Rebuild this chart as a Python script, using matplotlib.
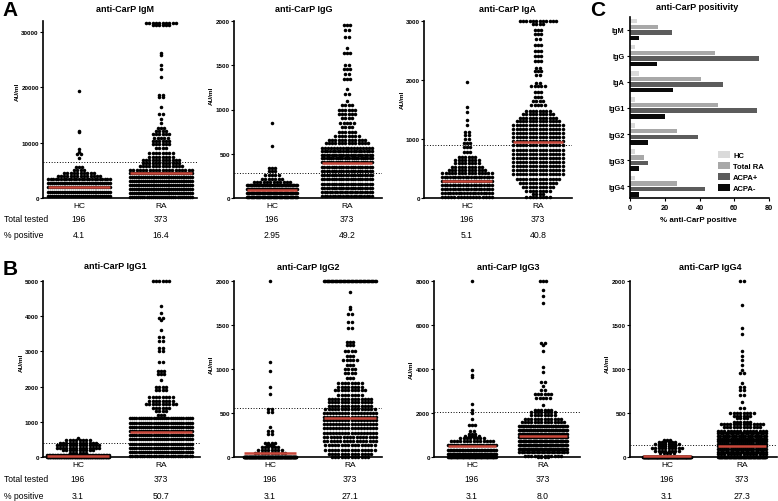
import numpy as np
import matplotlib
matplotlib.use('Agg')
import matplotlib.pyplot as plt
from matplotlib.patches import Patch

plt.rcParams['font.family'] = ['Liberation Sans', 'DejaVu Sans']

W, H = 778, 502
RED = '#c8473a'

groups = ['HC', 'RA']
total_tested = ['196', '373']

igm_hc_vals = [19300, 12100, 11900, 8800, 8400, 7900, 7200, 5600, 5000, 4600, 4000, 3400, 2650, 1900, 1150, 400]
igm_hc_n = [1, 1, 1, 1, 1, 2, 1, 3, 4, 10, 14, 25, 33, 33, 33, 33]
igm_ra_vals = [31700, 31200, 26300, 25900, 24000, 23400, 21900, 18600, 18300, 16500, 15100, 14300, 13600,
               12600, 12100, 11500, 10900, 10300, 9700, 9000, 8200, 7500, 6900, 6300, 5700, 5100,
               4600, 3850, 3100, 2350, 1600, 850, 200]
igm_ra_n = [10, 6, 1, 1, 1, 1, 1, 2, 2, 1, 2, 1, 1, 3, 4, 6, 5, 6, 6, 4, 8, 8, 12, 12, 14, 20,
            34, 34, 34, 34, 34, 34, 31]

igg_hc_vals = [850, 590, 340, 300, 260, 220, 185, 150, 105, 60, 15]
igg_hc_n = [1, 1, 3, 3, 5, 7, 12, 38, 42, 42, 42]
igg_ra_vals = [1950, 1900, 1820, 1700, 1640, 1500, 1460, 1400, 1340, 1230, 1180, 1100,
               1050, 1000, 950, 900, 850, 800, 750, 700, 660, 620, 570, 530, 490,
               450, 402, 354, 306, 258, 210, 162, 114, 66, 18]
igg_ra_n = [3, 2, 2, 1, 3, 2, 3, 2, 3, 1, 2, 1, 4, 6, 6, 4, 5, 4, 6, 8, 12, 14, 18, 20, 22,
            23, 23, 22, 22, 22, 22, 22, 22, 21, 20]

iga_hc_vals = [1970, 1540, 1450, 1330, 1230, 1120, 1060, 1000, 930, 860, 780, 700, 650, 590, 530,
               470, 420, 360, 290, 220, 150, 80, 10]
iga_hc_n = [1, 1, 1, 1, 1, 2, 2, 2, 3, 3, 3, 6, 8, 8, 10, 12, 16, 20, 20, 20, 20, 19, 17]
iga_ra_vals = [3000, 2950, 2850, 2780, 2700, 2600, 2500, 2400, 2330, 2200, 2150, 2080, 1950, 1900,
               1800, 1720, 1650, 1580, 1480, 1420, 1360, 1300, 1230, 1170, 1100, 1030, 960, 890,
               820, 750, 680, 610, 540, 470, 400, 330, 260, 190, 120, 60, 15]
iga_ra_n = [12, 4, 3, 3, 2, 3, 3, 3, 3, 2, 3, 2, 2, 5, 3, 3, 4, 5, 8, 10, 12, 14, 16, 16,
            16, 16, 16, 16, 16, 16, 16, 16, 16, 16, 16, 14, 12, 10, 8, 4, 8]

igg1_hc_vals = [530, 470, 400, 330, 260, 190, 120, 60, 10]
igg1_hc_n = [1, 8, 12, 14, 14, 10, 6, 40, 91]
igg1_ra_vals = [5000, 4300, 4100, 3950, 3900, 3600, 3400, 3300, 3100, 3000, 2700, 2450, 2350, 2200,
                2000, 1900, 1700, 1600, 1500, 1400, 1300, 1200, 1100, 980, 860, 740, 620, 500,
                380, 260, 140, 20]
igg1_ra_n = [6, 1, 1, 2, 1, 1, 2, 2, 2, 2, 2, 3, 3, 1, 4, 4, 8, 8, 10, 6, 4, 3,
             30, 30, 30, 30, 30, 30, 30, 30, 30, 27]

igg2_hc_vals = [2000, 1080, 980, 790, 720, 550, 510, 340, 290, 260, 160, 140, 110, 80, 50, 0]
igg2_hc_n = [1, 1, 1, 1, 1, 2, 2, 1, 2, 2, 4, 3, 6, 8, 10, 151]
igg2_ra_vals = [2000, 1870, 1710, 1680, 1630, 1530, 1470, 1310, 1270, 1200, 1150, 1100, 1050, 1000,
                950, 900, 840, 800, 760, 700, 660, 620, 580, 540, 500, 460, 420, 372, 324, 276,
                228, 180, 132, 84, 36, 0]
igg2_ra_n = [40, 1, 1, 1, 2, 2, 2, 3, 3, 4, 3, 5, 3, 4, 4, 3, 8, 8, 10, 8, 14, 14, 14, 16, 18, 18,
             18, 18, 18, 18, 17, 17, 16, 16, 14, 12]

igg3_hc_vals = [8000, 3950, 3750, 3650, 2400, 2150, 2000, 1750, 1450, 1200, 1050, 950, 850, 720,
                530, 340, 150, 0]
igg3_hc_n = [1, 1, 1, 1, 1, 1, 1, 1, 3, 2, 3, 5, 8, 14, 24, 32, 40, 57]
igg3_ra_vals = [8000, 7600, 7300, 7000, 5200, 5100, 4800, 4100, 3850, 3400, 3250, 3050, 2850, 2700,
                2350, 2150, 2050, 1900, 1750, 1600, 1400, 1230, 1060, 890, 720, 550, 380, 210, 60, 0]
igg3_ra_n = [3, 1, 1, 1, 2, 1, 1, 1, 1, 2, 1, 2, 6, 5, 1, 6, 8, 8, 12, 14,
             28, 36, 38, 40, 40, 40, 38, 20, 12, 4]

igg4_hc_vals = [190, 170, 150, 120, 100, 70, 50, 0]
igg4_hc_n = [3, 6, 8, 6, 10, 8, 5, 150]
igg4_ra_vals = [2000, 1730, 1470, 1400, 1200, 1150, 1100, 1050, 990, 960, 840, 800, 760, 700, 620,
                560, 500, 470, 440, 400, 370, 340, 300, 270, 240, 210, 180, 150, 120, 90, 60, 30, 0]
igg4_ra_n = [2, 1, 1, 1, 1, 1, 1, 1, 1, 2, 1, 2, 2, 2, 1, 2, 8, 6, 4, 6, 14, 12, 16, 20,
             22, 24, 24, 24, 24, 24, 20, 16, 87]

# medians (red bars), cut-offs (dotted) and % positive
medians = {'IgM': [1900, 4500], 'IgG': [95, 400], 'IgA': [280, 950], 'IgG1': [40, 700],
           'IgG2': [50, 445], 'IgG3': [480, 950], 'IgG4': [10, 130]}
cutoffs = {'IgM': 6500, 'IgG': 280, 'IgA': 900, 'IgG1': 400, 'IgG2': 560, 'IgG3': 2050, 'IgG4': 140}
pct_positive = {'IgM': ['4.1', '16.4'], 'IgG': ['2.95', '49.2'], 'IgA': ['5.1', '40.8'],
                'IgG1': ['3.1', '50.7'], 'IgG2': ['3.1', '27.1'], 'IgG3': ['3.1', '8.0'],
                'IgG4': ['3.1', '27.3']}
y_ticks = {'IgM': [0, 10000, 20000, 30000], 'IgG': [0, 500, 1000, 1500, 2000],
           'IgA': [0, 1000, 2000, 3000], 'IgG1': [0, 1000, 2000, 3000, 4000, 5000],
           'IgG2': [0, 500, 1000, 1500, 2000], 'IgG3': [0, 2000, 4000, 6000, 8000],
           'IgG4': [0, 500, 1000, 1500, 2000]}

# panel C
isotypes = ['IgM', 'IgG', 'IgA', 'IgG1', 'IgG2', 'IgG3', 'IgG4']
pos_hc = [4.1, 2.95, 5.1, 3.1, 3.1, 3.1, 3.1]
pos_total_ra = [16.4, 49.2, 40.8, 50.7, 27.1, 8.0, 27.3]
pos_acpa_plus = [24.2, 74.2, 53.5, 73.1, 39.1, 10.4, 43.2]
pos_acpa_minus = [5.2, 15.5, 24.7, 20.1, 10.4, 5.2, 5.2]
series_names = ['HC', 'Total RA', 'ACPA+', 'ACPA-']
series_colors = ['#dadada', '#a8a8a8', '#5c5c5c', '#0a0a0a']

# layout in pixels: axes box, HC / RA centres, swarm half width, title, y-label centre, table rows
panels = [
    ('IgM', igm_hc_vals, igm_hc_n, igm_ra_vals, igm_ra_n, 32000, (43, 22, 197, 199), 79, 161, 31, (125, 9), (17.5, 92), (220, 235)),
    ('IgG', igg_hc_vals, igg_hc_n, igg_ra_vals, igg_ra_n, 2000, (234, 22, 382, 199), 272, 347, 25, (304, 9), (211, 96), (220, 235)),
    ('IgA', iga_hc_vals, iga_hc_n, iga_ra_vals, iga_ra_n, 3000, (424, 22, 572, 199), 467, 538, 25, (507, 9), (402, 100), (220, 235)),
    ('IgG1', igg1_hc_vals, igg1_hc_n, igg1_ra_vals, igg1_ra_n, 5000, (43, 282, 200, 458), 78, 161, 31, (115, 267), (21, 363), (480, 497)),
    ('IgG2', igg2_hc_vals, igg2_hc_n, igg2_ra_vals, igg2_ra_n, 2000, (234, 282, 382, 458), 270, 350, 26, (308, 268), (211, 365), (480, 497)),
    ('IgG3', igg3_hc_vals, igg3_hc_n, igg3_ra_vals, igg3_ra_n, 8000, (434, 282, 580, 458), 472, 543, 24, (508, 268), (411, 370), (480, 497)),
    ('IgG4', igg4_hc_vals, igg4_hc_n, igg4_ra_vals, igg4_ra_n, 2000, (630, 282, 777, 458), 667, 742, 24, (710, 268), (607, 364), (480, 497)),
]


def fx(x):
    return x / W


def fy(y):
    return 1 - y / H


def swarm(ax, i, vals, counts, half, step):
    xs, ys = [], []
    for v, n in zip(vals, counts):
        d = min(step, 2 * half / max(n - 1, 1))
        xs.extend(i + (np.arange(n) - (n - 1) / 2) * d)
        ys.extend([v] * n)
    ax.scatter(xs, ys, s=6.5, color='black', linewidths=0, clip_on=False, zorder=3)


fig = plt.figure(figsize=(W / 100, H / 100), dpi=100)

for name, hv, hn, rv, rn, ymax, (l, t, r, b), hc_px, ra_px, half_px, tpos, lpos, trows in panels:
    ax = fig.add_axes([fx(l), fy(b), (r - l) / W, (b - t) / H])
    gap = ra_px - hc_px
    ax.set_xlim((l - hc_px) / gap, (r - hc_px) / gap)
    ax.set_ylim(0, ymax)
    half = half_px / gap
    for i, (vals, counts) in enumerate([(hv, hn), (rv, rn)]):
        swarm(ax, i, vals, counts, half, 3.3 / gap)
        ax.plot([i - half, i + half], [medians[name][i]] * 2, color=RED, lw=1.8,
                solid_capstyle='butt', zorder=4, clip_on=False)
    ax.axhline(cutoffs[name], color='black', lw=0.7, ls=(0, (1, 1.8)), zorder=2)
    for s in ['top', 'right']:
        ax.spines[s].set_visible(False)
    for s in ['left', 'bottom']:
        ax.spines[s].set_linewidth(1.2)
    ax.set_yticks(y_ticks[name])
    ax.tick_params(axis='y', labelsize=4.5, width=0.8, length=2, pad=1)
    plt.setp(ax.get_yticklabels(), fontweight='bold')
    ax.set_xticks([0, 1], groups)
    ax.tick_params(axis='x', length=0, labelsize=6, pad=3)
    fig.text(fx(tpos[0]), fy(tpos[1]), 'anti-CarP ' + name, fontsize=6.5, fontweight='bold',
             ha='center', va='center')
    fig.text(fx(lpos[0]), fy(lpos[1]), 'AU/ml', fontsize=4.6, fontweight='bold', rotation=90,
             ha='center', va='center')
    for i, px in enumerate([hc_px, ra_px]):
        fig.text(fx(px), fy(trows[0]), total_tested[i], fontsize=6.2, ha='center', va='center')
        fig.text(fx(px), fy(trows[1]), pct_positive[name][i], fontsize=6.2, ha='center', va='center')

for yrow in [(220, 235), (480, 497)]:
    fig.text(fx(4), fy(yrow[0]), 'Total tested', fontsize=6.2, ha='left', va='center')
    fig.text(fx(4), fy(yrow[1]), '% positive', fontsize=6.2, ha='left', va='center')

# panel C: horizontal grouped bars
axc = fig.add_axes([fx(630), fy(199), (769 - 630) / W, (199 - 18) / H])
yc = np.arange(len(isotypes))
for k, vals in enumerate([pos_hc, pos_total_ra, pos_acpa_plus, pos_acpa_minus]):
    axc.barh(yc + (k - 1.5) * 0.215, vals, height=0.17, color=series_colors[k], linewidth=0)
axc.set_ylim(6.45, -0.48)
axc.set_xlim(0, 80)
axc.set_xticks([0, 20, 40, 60, 80])
axc.set_yticks(yc, isotypes)
for s in ['top', 'right']:
    axc.spines[s].set_visible(False)
for s in ['left', 'bottom']:
    axc.spines[s].set_linewidth(1.2)
axc.tick_params(labelsize=5.3, width=0.8, length=2.5, pad=1.5)
plt.setp(axc.get_yticklabels() + axc.get_xticklabels(), fontweight='bold')
fig.text(fx(698), fy(220), '% anti-CarP positive', fontsize=5.7, fontweight='bold', ha='center', va='center')
fig.text(fx(697), fy(7), 'anti-CarP positivity', fontsize=6.5, fontweight='bold', ha='center', va='center')
handles = [Patch(facecolor=c, edgecolor='none') for c in series_colors]
fig.legend(handles, series_names, loc='upper left', bbox_to_anchor=(fx(718), fy(152)), frameon=False,
           prop={'size': 5.5, 'weight': 'bold'}, handlelength=1.6, handleheight=1.0,
           labelspacing=0.4, handletextpad=0.4, borderaxespad=0, borderpad=0)

# panel letters
for letter, (x, y) in zip('ABC', [(10, 11), (10, 270), (598, 10)]):
    fig.text(fx(x), fy(y), letter, fontsize=15, fontweight='bold', ha='center', va='center')

fig.savefig('out.png', dpi=100)
